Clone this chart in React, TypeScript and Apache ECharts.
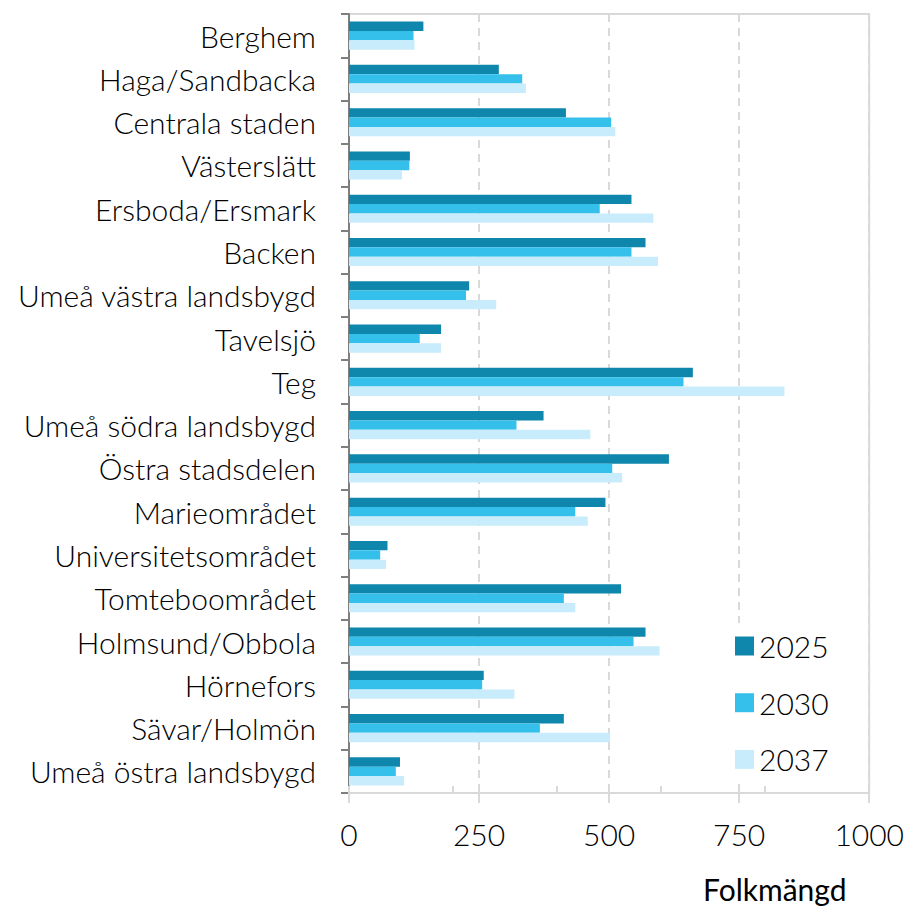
import React, { useEffect, useRef } from "react";
import * as echarts from "echarts";

const categories = [
  "Berghem",
  "Haga/Sandbacka",
  "Centrala staden",
  "Västerslätt",
  "Ersboda/Ersmark",
  "Backen",
  "Umeå västra landsbygd",
  "Tavelsjö",
  "Teg",
  "Umeå södra landsbygd",
  "Östra stadsdelen",
  "Marieområdet",
  "Universitetsområdet",
  "Tomteboområdet",
  "Holmsund/Obbola",
  "Hörnefors",
  "Sävar/Holmön",
  "Umeå östra landsbygd",
];

const values2025 = [143, 288, 417, 117, 543, 570, 231, 177, 661, 374, 615, 493, 74, 523, 570, 259, 413, 98];
const values2030 = [124, 333, 504, 116, 482, 543, 225, 136, 643, 322, 506, 435, 60, 413, 547, 256, 367, 90];
const values2037 = [126, 340, 512, 102, 585, 594, 283, 177, 837, 464, 525, 459, 71, 435, 597, 318, 502, 106];

const seriesNames = ["2025", "2030", "2037"];
const seriesColors = ["#0f86ab", "#35c0ec", "#c8ecfb"];
const axisTitle = "Folkmängd";

const FONT = "Lato";
const FS = 30;

export default function App() {
  const ref = useRef<HTMLDivElement>(null);
  useEffect(() => {
    if (!ref.current) return;
    const chart = echarts.init(ref.current, undefined, { renderer: "svg" });
    const data = [values2025, values2030, values2037];
    chart.setOption({
      animation: false,
      backgroundColor: "#ffffff",
      grid: {
        left: 349,
        right: 35,
        top: 14,
        bottom: 113,
        show: true,
        borderColor: "#d9d9d9",
        borderWidth: 2,
        containLabel: false,
      },
      legend: {
        orient: "vertical",
        left: 727,
        top: 623,
        itemWidth: 19,
        itemHeight: 19,
        itemGap: 26.7,
        padding: [8, 12, 8, 8],
        backgroundColor: "#ffffff",
        icon: "rect",
        data: seriesNames,
        textStyle: { fontFamily: FONT, fontWeight: 300, fontSize: FS, lineHeight: 30, color: "#000000" },
      },
      xAxis: [
        {
          type: "value",
          min: 0,
          max: 1000,
          interval: 250,
          axisLine: { show: true, lineStyle: { color: "#d9d9d9", width: 2 } },
          axisTick: { show: true, length: 10, lineStyle: { color: "#d9d9d9", width: 2 } },
          axisLabel: {
            fontFamily: FONT,
            fontWeight: 300,
            fontSize: FS,
            color: "#000000",
            margin: 26,
            formatter: (v: number) => String(v),
          },
          splitLine: { show: true, lineStyle: { color: "#d9d9d9", width: 2, type: [8, 6] } },
        },
        {
          type: "value",
          position: "bottom",
          min: 0,
          max: 1000,
          interval: 200,
          axisLine: { show: false },
          axisTick: { show: true, inside: true, length: 7, lineStyle: { color: "#d9d9d9", width: 2 } },
          axisLabel: { show: false },
          splitLine: { show: false },
        },
      ],
      yAxis: {
        type: "category",
        inverse: true,
        data: categories,
        axisLine: { show: true, lineStyle: { color: "#7f7f7f", width: 2 } },
        axisTick: { show: true, length: 8, lineStyle: { color: "#7f7f7f", width: 2 } },
        axisLabel: {
          fontFamily: FONT,
          fontWeight: 300,
          fontSize: FS,
          color: "#000000",
          margin: 33,
          padding: [0, 0, 5, 0],
        },
        splitLine: { show: false },
      },
      graphic: [
        {
          type: "text",
          x: 703,
          y: 889,
          style: {
            text: axisTitle,
            fontFamily: FONT,
            fontWeight: 400,
            fontSize: 30,
            fill: "#000000",
            align: "left",
            verticalAlign: "middle",
          },
        },
      ],
      series: seriesNames.map((name, i) => ({
        name,
        type: "bar",
        xAxisIndex: 0,
        data: data[i],
        barGap: "0%",
        barCategoryGap: "35%",
        itemStyle: { color: seriesColors[i] },
      })),
    });
    return () => chart.dispose();
  }, []);
  return <div ref={ref} style={{ position: "fixed", left: 0, top: 0, width: 907, height: 906 }} />;
}
